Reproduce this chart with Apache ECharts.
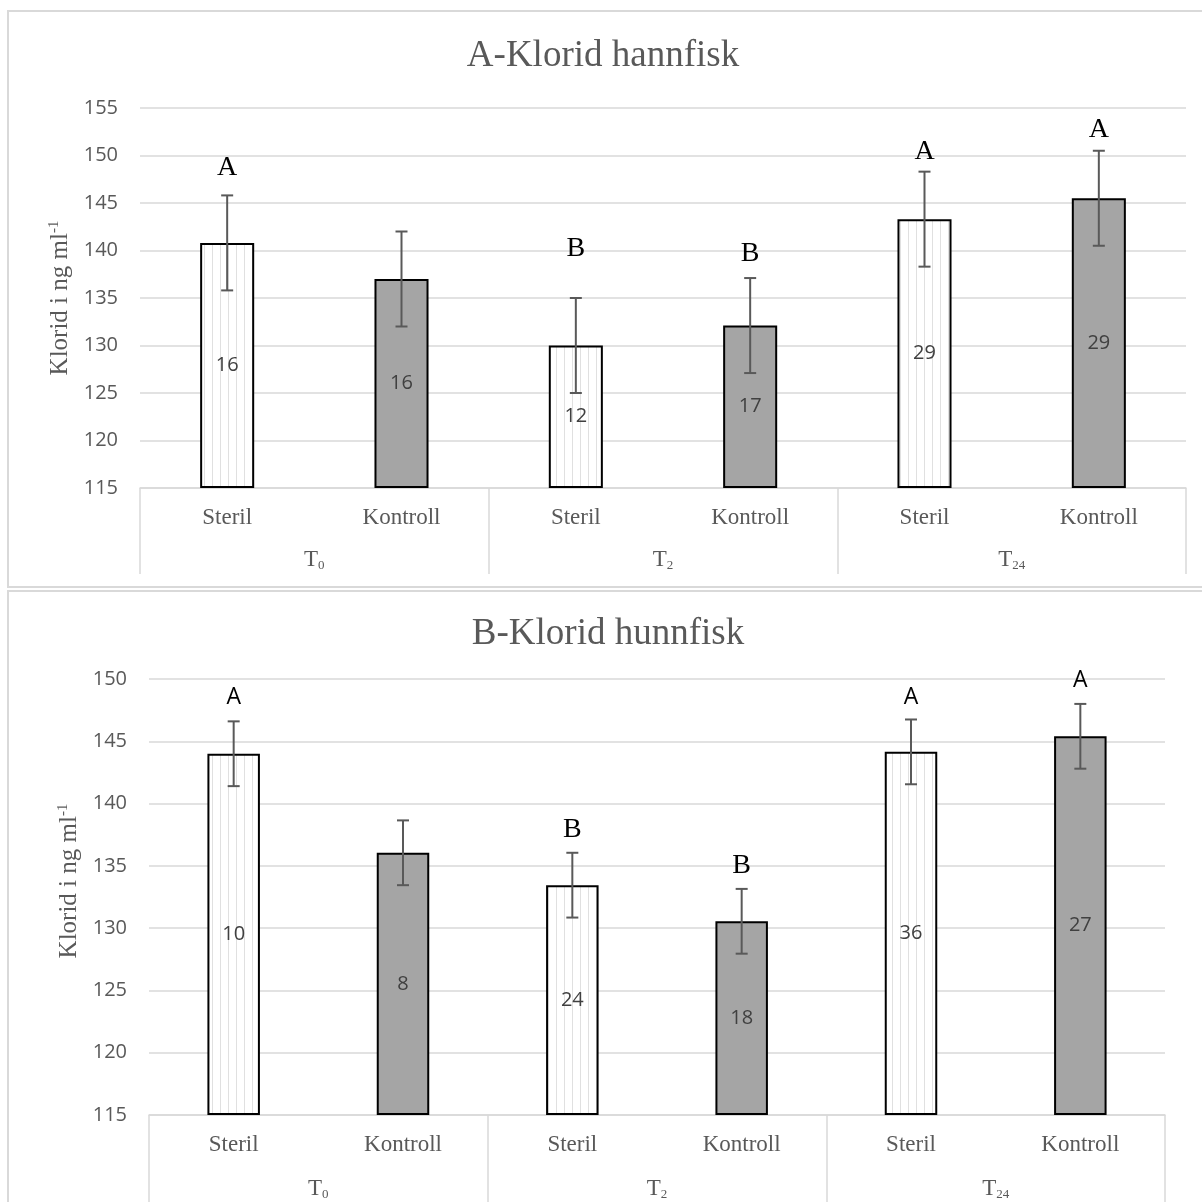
<!DOCTYPE html>
<html>
<head>
<meta charset="utf-8">
<script src="https://cdn.jsdelivr.net/npm/echarts@6/dist/echarts.min.js"></script>
<style>
html,body{margin:0;padding:0;background:#fff;}
#c{width:1202px;height:1202px;}
</style>
</head>
<body>
<div id="c"></div>
<script>
// ---- data ----
const categories = ['Steril', 'Kontroll', 'Steril', 'Kontroll', 'Steril', 'Kontroll'];
const groups = ['T0', 'T2', 'T24'];
const yTicksTop = { min: 115, max: 155, step: 5 };
const yTicksBottom = { min: 115, max: 150, step: 5 };

const maleMeans = [140.8, 137.0, 130.0, 132.1, 143.3, 145.5];
const maleErr = [5.0, 5.0, 5.0, 5.0, 5.0, 5.0];
const maleN = [16, 16, 12, 17, 29, 29];
const maleLetters = ['A', '', 'B', 'B', 'A', 'A'];
const maleLetterLevel = [148.7, null, 140.2, 139.7, 150.4, 152.7];

const femaleMeans = [144.0, 136.05, 133.45, 130.55, 144.15, 145.4];
const femaleErr = [2.6, 2.6, 2.6, 2.6, 2.6, 2.6];
const femaleN = [10, 8, 24, 18, 36, 27];
const femaleLetters = ['A', '', 'B', 'B', 'A', 'A'];
const femaleLetterLevel = [148.5, null, 137.9, 135.0, 148.5, 149.9];

const titleTop = 'A-Klorid hannfisk';
const titleBottom = 'B-Klorid hunnfisk';
const yName = 'Klorid i ng ml';

// ---- styles ----
const SERIF = '"Liberation Serif", "Times New Roman", serif';
const SANS = '"Open Sans", "Noto Sans", sans-serif';
const GRID_C = '#d9d9d9';
const TXT = '#595959';

function stripePattern() {
  const cv = document.createElement('canvas');
  cv.width = 8; cv.height = 8;
  const ctx = cv.getContext('2d');
  ctx.fillStyle = '#ffffff';
  ctx.fillRect(0, 0, 8, 8);
  ctx.fillStyle = '#e0e0e0';
  ctx.fillRect(4, 0, 1, 8);
  return cv;
}
const stripe = { image: stripePattern(), repeat: 'repeat' };

function barData(means) {
  return means.map((v, i) => ({
    value: v,
    itemStyle: (i % 2 === 0)
      ? { color: stripe, borderColor: '#000', borderWidth: 2 }
      : { color: '#a5a5a5', borderColor: '#000', borderWidth: 2 }
  }));
}

function groupFormatter(v) {
  return '{t|T}{s|' + v.slice(1) + '}';
}
const groupRich = {
  t: { fontFamily: SERIF, fontSize: 23, color: TXT, lineHeight: 24 },
  s: { fontFamily: SERIF, fontSize: 13, color: TXT, lineHeight: 13, verticalAlign: 'bottom' }
};

function xAxes(gridIndex, tickLen, groupMargin) {
  return [
    {
      gridIndex, type: 'category', data: categories, position: 'bottom',
      axisLine: { show: true, lineStyle: { color: GRID_C, width: 1.5 } },
      axisTick: { show: false },
      splitLine: { show: false },
      axisLabel: { interval: 0, fontFamily: SERIF, fontSize: 23, color: TXT, margin: 18 }
    },
    {
      gridIndex, type: 'category', data: groups, position: 'bottom',
      axisLine: { show: false },
      axisTick: { show: true, length: tickLen, lineStyle: { color: GRID_C, width: 1.5 } },
      splitLine: { show: false },
      axisLabel: { interval: 0, margin: groupMargin, formatter: groupFormatter, rich: groupRich }
    }
  ];
}

function yAxis(gridIndex, t, gap, shift) {
  return {
    gridIndex, type: 'value', min: t.min, max: t.max, interval: t.step, startValue: t.min,
    axisLine: { show: false }, axisTick: { show: false },
    splitLine: { show: true, lineStyle: { color: GRID_C, width: 1.5 } },
    axisLabel: { fontFamily: SANS, fontSize: 20, color: TXT, margin: 22 },
    name: '{a|' + yName + '}{s|-1}',
    nameLocation: 'middle', nameRotate: 90, nameGap: gap,
    nameTextStyle: {
      padding: [0, 0, 0, shift],
      rich: {
        a: { fontFamily: SERIF, fontSize: 25, color: TXT, lineHeight: 28 },
        s: { fontFamily: SERIF, fontSize: 15, color: TXT, lineHeight: 15, verticalAlign: 'top' }
      }
    }
  };
}

function errorSeries(xi, yi, means, errs) {
  return {
    type: 'custom', xAxisIndex: xi, yAxisIndex: yi, z: 5, silent: true,
    data: means.map((m, i) => [i, m - errs[i], m + errs[i]]),
    renderItem: function (params, api) {
      const lo = api.coord([api.value(0), api.value(1)]);
      const hi = api.coord([api.value(0), api.value(2)]);
      const hw = 6;
      const st = { stroke: '#595959', lineWidth: 2 };
      return {
        type: 'group', children: [
          { type: 'line', shape: { x1: lo[0], y1: lo[1], x2: hi[0], y2: hi[1] }, style: st },
          { type: 'line', shape: { x1: lo[0] - hw, y1: lo[1], x2: lo[0] + hw, y2: lo[1] }, style: st },
          { type: 'line', shape: { x1: hi[0] - hw, y1: hi[1], x2: hi[0] + hw, y2: hi[1] }, style: st }
        ]
      };
    }
  };
}

function letterSeries(xi, yi, letters, levels, fontFor) {
  return {
    type: 'custom', xAxisIndex: xi, yAxisIndex: yi, z: 6, silent: true,
    data: letters.map((l, i) => [i, levels[i] == null ? 0 : levels[i], l]),
    renderItem: function (params, api) {
      const txt = letters[params.dataIndex];
      if (!txt) return null;
      const p = api.coord([api.value(0), api.value(1)]);
      const f = fontFor(txt);
      return {
        type: 'text', x: p[0], y: p[1],
        style: { text: txt, fill: '#000', align: 'center', verticalAlign: 'middle', font: f }
      };
    }
  };
}

const chart = echarts.init(document.getElementById('c'), null, { renderer: 'canvas' });

const option = {
  animation: false,
  backgroundColor: '#ffffff',
  grid: [
    { left: 140, top: 108, width: 1046, height: 380, containLabel: false, outerBoundsMode: 'none' },
    { left: 149, top: 679, width: 1016, height: 436, containLabel: false, outerBoundsMode: 'none' }
  ],
  xAxis: [].concat(xAxes(0, 86, 60), xAxes(1, 92, 62)),
  yAxis: [yAxis(0, yTicksTop, 62, 0), yAxis(1, yTicksBottom, 62, 32)],
  graphic: [
    { type: 'rect', shape: { x: 8, y: 11, width: 1300, height: 576 }, style: { fill: 'none', stroke: GRID_C, lineWidth: 2 }, silent: true },
    { type: 'rect', shape: { x: 8, y: 591, width: 1300, height: 700 }, style: { fill: 'none', stroke: GRID_C, lineWidth: 2 }, silent: true },
    { type: 'text', x: 603, y: 56, style: { text: titleTop, font: '37px ' + SERIF, fill: TXT, align: 'center', verticalAlign: 'middle' } },
    { type: 'text', x: 608, y: 634, style: { text: titleBottom, font: '37px ' + SERIF, fill: TXT, align: 'center', verticalAlign: 'middle' } }
  ],
  series: [
    {
      type: 'bar', xAxisIndex: 0, yAxisIndex: 0, data: barData(maleMeans), barWidth: '31%',
      label: { show: true, position: 'inside', formatter: p => String(maleN[p.dataIndex]), fontFamily: SANS, fontSize: 20, color: '#404040' }
    },
    errorSeries(0, 0, maleMeans, maleErr),
    letterSeries(0, 0, maleLetters, maleLetterLevel, () => '28px ' + SERIF),
    {
      type: 'bar', xAxisIndex: 2, yAxisIndex: 1, data: barData(femaleMeans), barWidth: '31%',
      label: { show: true, position: 'inside', formatter: p => String(femaleN[p.dataIndex]), fontFamily: SANS, fontSize: 20, color: '#404040' }
    },
    errorSeries(2, 1, femaleMeans, femaleErr),
    letterSeries(2, 1, femaleLetters, femaleLetterLevel, l => l === 'A' ? ('23px ' + SANS) : ('28px ' + SERIF))
  ]
};
chart.setOption(option);
</script>
</body>
</html>
